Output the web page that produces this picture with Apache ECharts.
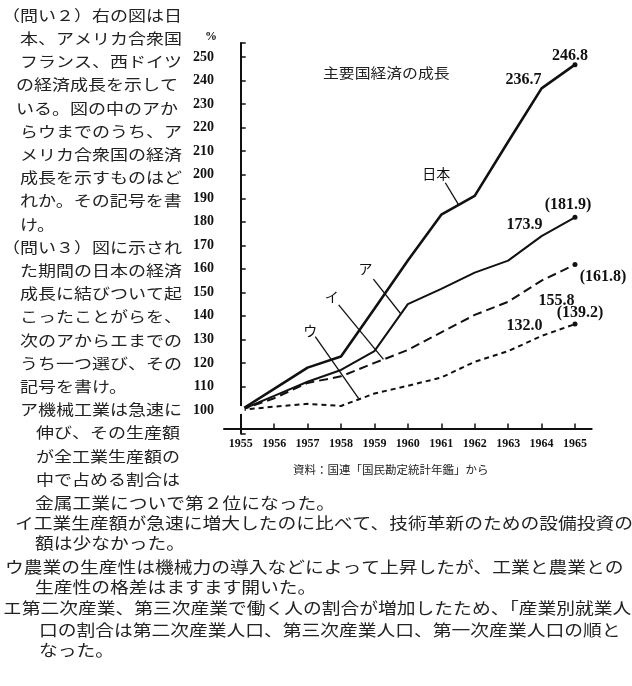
<!DOCTYPE html>
<html>
<head>
<meta charset="utf-8">
<script src="https://cdn.jsdelivr.net/npm/echarts@6.0.0/dist/echarts.min.js"></script>
<style>html,body{margin:0;padding:0;background:#fff}#c{width:632px;height:686px}</style>
</head>
<body>
<div id="c"></div>
<script>
// ---- data ----
const years = ['1955','1956','1957','1958','1959','1960','1961','1962','1963','1964','1965'];
const japan   = [100, 109, 118, 122.7, 143, 163.5, 183, 191, 214, 236.7, 246.8];
const seriesA = [100, 106, 112, 117, 125, 145, 151.5, 158.4, 163.5, 173.9, 181.9]; // ア
const seriesI = [100, 105, 111.5, 114.3, 120, 125.5, 133, 140.4, 146, 155, 161.8];  // イ
const seriesU = [100, 101.4, 102.6, 101.7, 107, 110.3, 113.8, 120.5, 125, 131.5, 136.5]; // ウ
const japanEndLabels = ['236.7', '246.8'];
const aEndLabels = ['173.9', '(181.9)'];
const iEndLabels = ['155.8', '(161.8)'];
const uEndLabels = ['132.0', '(139.2)'];
// annotation pointer lines, in data space [year index, value]
const pointerJapan = [[6.12, 196.6], [6.52, 187.2]];
const pointerA = [[3.97, 155.6], [4.78, 141]];
const pointerI = [[2.93, 144.7], [4.27, 121.5]];
const pointerU = [[2.23, 131.2], [3.53, 104.8]];
const chartTitle = '主要国経済の成長';
const unitLabel = '%';
const sourceNote = '資料：国連「国民勘定統計年鑑」から';
const leftLines = [
  '（問い２）右の図は日','本、アメリカ合衆国','フランス、西ドイツ','の経済成長を示して',
  'いる。図の中のアか','らウまでのうち、ア','メリカ合衆国の経済','成長を示すものはど',
  'れか。その記号を書','け。','（問い３）図に示され','た期間の日本の経済',
  '成長に結びついて起','こったことがらを、','次のアからエまでの','うち一つ選び、その',
  '記号を書け。','ア機械工業は急速に','伸び、その生産額','が全工業生産額の','中で占める割合は'
];
const leftX = [2,20,20,16,16,20,20,20,20,20,2,20,20,20,20,20,20,20,36,36,36];
const bottomLines = [
  '金属工業についで第２位になった。',
  'イ工業生産額が急速に増大したのに比べて、技術革新のための設備投資の',
  '額は少なかった。',
  'ウ農業の生産性は機械力の導入などによって上昇したが、工業と農業との',
  '生産性の格差はますます開いた。',
  'エ第二次産業、第三次産業で働く人の割合が増加したため、「産業別就業人',
  '口の割合は第二次産業人口、第三次産業人口、第一次産業人口の順と',
  'なった。'
];
const bottomX = [35,15,35,5,35,3,39,39];
const bottomY = [503,523,543,567,587,608,630,650];

// ---- styles ----
const INK = '#111';
const TXT = '#222';
const CJK = '"Noto Sans CJK JP"';
const numLabel = {fontFamily:'Liberation Serif', fontWeight:'bold', fontSize:16, color:INK};

function buildData(vals, labels, offs, startSymbol) {
  return vals.map((v, i) => {
    if (i === 0 && startSymbol) {
      return {value: v, symbol: 'emptyCircle', symbolSize: 6, itemStyle: {color: '#fff', borderColor: INK, borderWidth: 1.5}};
    }
    if (i === vals.length - 2) {
      return {value: v, symbol: 'circle', symbolSize: 0,
        label: Object.assign({show: true, position: 'inside', formatter: labels[0], offset: offs[0]}, numLabel)};
    }
    if (i === vals.length - 1) {
      return {value: v, symbol: 'circle', symbolSize: 5, itemStyle: {color: INK},
        label: Object.assign({show: true, position: 'inside', formatter: labels[1], offset: offs[1]}, numLabel)};
    }
    return {value: v, symbol: 'none'};
  });
}

function dataLine(name, vals, labels, offs, width, type, startSymbol) {
  return {
    name, type: 'line', xAxisIndex: 0, yAxisIndex: 0,
    data: buildData(vals, labels, offs, startSymbol),
    symbol: 'none',
    lineStyle: {color: INK, width, type},
    itemStyle: {color: INK},
    emphasis: {disabled: true},
    z: 3
  };
}

function pointer(name, pts, text, off) {
  return {
    name, type: 'line', xAxisIndex: 1, yAxisIndex: 0,
    symbol: 'none',
    data: pts.map((p, i) => i === 0 ? {
      value: p, symbol: 'circle', symbolSize: 0,
      label: {show: true, position: 'inside', formatter: text, offset: off,
        fontFamily: CJK, fontSize: 14, color: INK}
    } : {value: p, symbol: 'none'}),
    lineStyle: {color: INK, width: 1.3},
    emphasis: {disabled: true},
    z: 4
  };
}

const graphics = [];
leftLines.forEach((t, i) => {
  graphics.push({type: 'text', x: leftX[i], y: 15 + 23.2 * i, scaleX: 1.2, silent: true,
    style: {text: t, font: '15px ' + CJK, fill: TXT, textAlign: 'left', textVerticalAlign: 'middle'}});
});
bottomLines.forEach((t, i) => {
  graphics.push({type: 'text', x: bottomX[i], y: bottomY[i], scaleX: 1.21, silent: true,
    style: {text: t, font: '15.5px ' + CJK, fill: TXT, textAlign: 'left', textVerticalAlign: 'middle'}});
});
graphics.push({type: 'text', x: 323, y: 73, scaleX: 1.13, silent: true,
  style: {text: chartTitle, font: '14px ' + CJK, fill: TXT, textAlign: 'left', textVerticalAlign: 'middle'}});
graphics.push({type: 'text', x: 293, y: 470, silent: true,
  style: {text: sourceNote, font: '11.5px ' + CJK, fill: TXT, textAlign: 'left', textVerticalAlign: 'middle'}});
graphics.push({type: 'text', x: 211, y: 37, silent: true,
  style: {text: unitLabel, font: 'bold 12px "Liberation Serif"', fill: INK, textAlign: 'center', textVerticalAlign: 'middle'}});

const option = {
  backgroundColor: '#fff',
  animation: false,
  grid: {left: 224, right: 40.3, top: 43, bottom: 252.5},
  xAxis: [
    {
      type: 'category', data: years, boundaryGap: true, offset: -5,
      axisLine: {show: true, lineStyle: {color: INK, width: 2}},
      axisTick: {show: true, inside: true, alignWithLabel: true, length: 5, lineStyle: {color: INK, width: 1.5}},
      axisLabel: {interval: 0, margin: 9, fontFamily: 'Liberation Serif', fontWeight: 'bold', fontSize: 12, color: INK},
      splitLine: {show: false}
    },
    {type: 'value', min: -0.5, max: 10.5, show: false}
  ],
  yAxis: [{
    type: 'value', min: 90, max: 256, interval: 10,
    axisLine: {show: true, lineStyle: {color: INK, width: 2}},
    axisTick: {show: true, inside: true, length: 5, lineStyle: {color: INK, width: 1.5}},
    axisLabel: {margin: 10, fontFamily: 'Liberation Serif', fontWeight: 'bold', fontSize: 14, color: INK,
      formatter: v => (v % 10 === 0 && v >= 100 && v <= 250) ? String(v) : ''},
    splitLine: {show: false}
  }],
  series: [
    dataLine('日本', japan, japanEndLabels, [[-18, -9], [-5, -9]], 2.6, 'solid', true),
    dataLine('ア', seriesA, aEndLabels, [[-17, -11], [-7, -12]], 2, 'solid', false),
    dataLine('イ', seriesI, iEndLabels, [[15, 20], [28, 12]], 2, [9, 5], false),
    dataLine('ウ', seriesU, uEndLabels, [[-17, -10], [5, -11]], 2, [5, 4], false),
    pointer('日本 pointer', pointerJapan, '日本', [-9, -9]),
    pointer('ア pointer', pointerA, 'ア', [-8, -10]),
    pointer('イ pointer', pointerI, 'イ', [-7, -8]),
    pointer('ウ pointer', pointerU, 'ウ', [-5, -6])
  ],
  graphic: {elements: graphics}
};

const chart = echarts.init(document.getElementById('c'), null, {renderer: 'canvas'});
chart.setOption(option);
</script>
</body>
</html>
